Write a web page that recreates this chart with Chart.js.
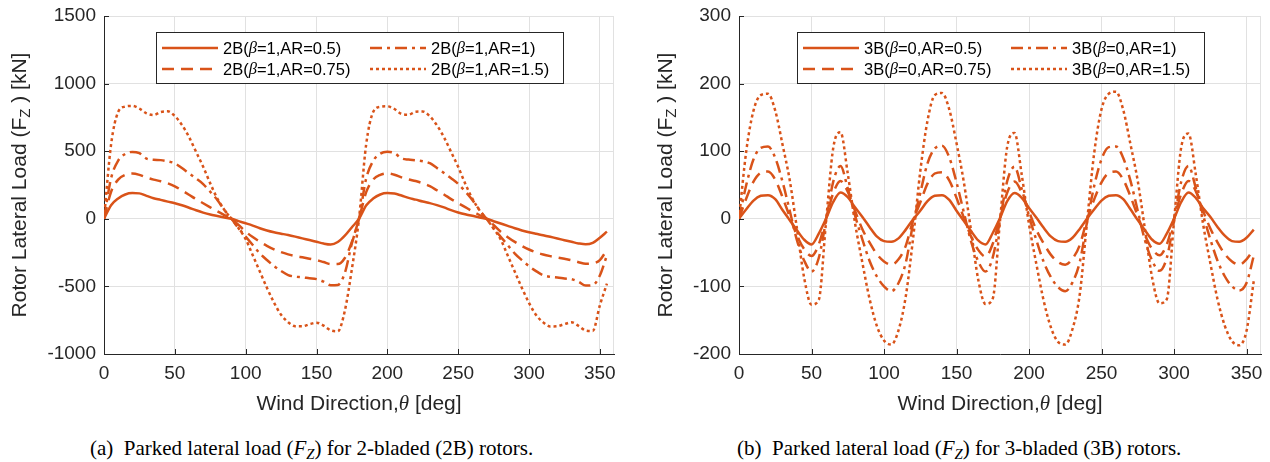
<!DOCTYPE html>
<html>
<head>
<meta charset="utf-8">
<script src="https://cdn.jsdelivr.net/npm/chart.js@4.4.1/dist/chart.umd.min.js"></script>
<style>
  html, body { margin: 0; padding: 0; background: #fff; }
  body { width: 1270px; height: 462px; position: relative; overflow: hidden; }
  canvas { position: absolute; top: 0; }
  #chart2B { left: 0; }
  #chart3B { left: 635px; }
  .caption {
    position: absolute; top: 436px;
    font-family: 'Liberation Serif', 'Times New Roman', serif;
    font-size: 21px; color: #000; white-space: nowrap;
  }
  .caption sub { font-size: 70%; vertical-align: -0.3em; line-height: 0; }
</style>
</head>
<body>
<canvas id="chart2B" width="635" height="425"></canvas>
<canvas id="chart3B" width="635" height="425"></canvas>
<div class="caption" style="left:90px">(a)&nbsp;&nbsp;Parked lateral load (<i>F<sub>Z</sub></i>) for 2-bladed (2B) rotors.</div>
<div class="caption" style="left:737px">(b)&nbsp;&nbsp;Parked lateral load (<i>F<sub>Z</sub></i>) for 3-bladed (3B) rotors.</div>
<script>
// Wind direction (deg) for every sample, both panels
const theta = [
  0, 5, 10, 15, 20, 25, 30, 35, 40, 45, 50, 55, 60, 65, 70, 75, 80, 85,
  90, 95, 100, 105, 110, 115, 120, 125, 130, 135, 140, 145, 150, 155, 160, 165, 170, 175,
  180, 185, 190, 195, 200, 205, 210, 215, 220, 225, 230, 235, 240, 245, 250, 255, 260, 265,
  270, 275, 280, 285, 290, 295, 300, 305, 310, 315, 320, 325, 330, 335, 340, 345, 350, 355
];

const arValues = ['0.5', '0.75', '1', '1.5'];
const xTicks   = [0, 50, 100, 150, 200, 250, 300, 350];
const yTicks2B = [-1000, -500, 0, 500, 1000, 1500];
const yTicks3B = [-200, -100, 0, 100, 200, 300];

// 2-bladed rotors, beta = 1  (kN)
const load2B_AR050 = [
  0, 100, 150, 180, 190, 188, 170, 152, 140, 127, 115, 100, 82, 63, 46, 32, 21, 10,
  0, -17, -33, -50, -70, -87, -100, -110, -120, -132, -145, -157, -170, -183, -190, -172, -125, -62,
  0, 98, 150, 180, 190, 187, 172, 155, 142, 128, 116, 101, 84, 64, 47, 33, 22, 10,
  0, -18, -35, -52, -70, -86, -100, -111, -121, -133, -146, -158, -170, -182, -189, -178, -140, -95
];
const load2B_AR075 = [
  0, 200, 290, 325, 335, 325, 305, 290, 278, 262, 240, 210, 178, 145, 115, 85, 55, 27,
  0, -45, -95, -135, -170, -200, -226, -247, -263, -275, -285, -295, -305, -320, -335, -335, -290, -170,
  0, 195, 290, 325, 336, 326, 306, 291, 279, 263, 241, 211, 180, 146, 116, 86, 56, 28,
  0, -46, -96, -136, -171, -201, -227, -248, -264, -276, -286, -296, -306, -321, -333, -330, -305, -230
];
const load2B_AR100 = [
  0, 300, 430, 480, 495, 485, 445, 437, 434, 425, 410, 375, 336, 298, 257, 200, 139, 65,
  0, -70, -132, -194, -256, -305, -349, -386, -416, -428, -433, -440, -446, -465, -492, -490, -400, -180,
  0, 295, 428, 482, 496, 486, 447, 438, 433, 426, 411, 376, 338, 300, 258, 202, 140, 66,
  0, -71, -133, -195, -257, -306, -350, -387, -417, -429, -434, -441, -447, -466, -494, -490, -420, -270
];
const load2B_AR150 = [
  0, 550, 790, 830, 835, 815, 780, 768, 790, 795, 760, 695, 605, 495, 385, 262, 150, 65,
  0, -70, -150, -270, -390, -510, -620, -710, -765, -795, -795, -780, -768, -790, -825, -832, -680, -370,
  0, 545, 790, 828, 832, 812, 776, 770, 792, 793, 758, 692, 603, 494, 384, 260, 150, 64,
  0, -72, -152, -272, -392, -512, -622, -712, -766, -796, -794, -779, -766, -792, -826, -830, -640, -480
];

// 3-bladed rotors, beta = 0  (kN)
const load3B_AR050 = [
  0, 14, 27, 34, 35, 29, 13, -2, -17, -31, -38, -22, 0, 25, 39, 32, 17, 3, -12, -26, -33, -34, -29, -16,
  -1, 12, 26, 34, 35, 28, 12, -3, -18, -32, -38, -21, 1, 26, 38, 31, 16, 2, -13, -26, -33, -34, -28, -15,
  0, 14, 27, 34, 35, 29, 14, -2, -17, -31, -37, -22, 0, 25, 39, 31, 16, 3, -12, -25, -33, -34, -28, -16
];
const load3B_AR075 = [
  0, 30, 55, 68, 70, 58, 32, 3, -25, -45, -55, -38, 0, 38, 56, 40, 12, -15, -35, -52, -63, -68, -60, -40,
  -3, 24, 52, 67, 69, 57, 31, 2, -26, -46, -56, -37, 1, 39, 55, 39, 11, -16, -36, -53, -64, -68, -59, -39,
  -1, 29, 54, 68, 70, 58, 33, 4, -24, -45, -54, -38, 0, 37, 56, 41, 12, -14, -35, -52, -63, -68, -60, -45
];
const load3B_AR100 = [
  0, 50, 88, 105, 107, 90, 55, 12, -32, -62, -78, -58, -3, 55, 78, 45, 5, -30, -62, -85, -100, -107, -95, -65,
  -8, 38, 82, 104, 108, 91, 54, 10, -33, -63, -78, -57, -2, 56, 77, 44, 4, -31, -63, -86, -101, -107, -94, -64,
  -5, 49, 88, 106, 107, 90, 56, 12, -32, -62, -77, -58, -3, 55, 78, 46, 6, -30, -62, -85, -100, -106, -95, -55
];
const load3B_AR150 = [
  0, 100, 160, 183, 185, 160, 110, 57, -15, -88, -127, -120, -5, 105, 128, 67, -6, -64, -118, -158, -180, -186, -165, -115,
  -30, 70, 145, 183, 186, 162, 112, 55, -17, -90, -126, -118, -3, 107, 127, 65, -8, -66, -120, -160, -182, -186, -163, -112,
  -5, 98, 162, 185, 188, 161, 110, 56, -16, -88, -125, -119, -4, 106, 126, 66, -7, -65, -119, -158, -181, -187, -166, -92
];

const ORANGE = '#D95319';
const AXIS   = '#262626';
const GRID   = '#e1e1e1';
const SANS   = "'Liberation Sans', Arial, Helvetica, sans-serif";
const SERIF  = "'Liberation Serif', 'Times New Roman', serif";

// solid, dashed, dash-dot, dotted  (same order as arValues)
const dashes = [[], [12, 7], [12, 5, 3, 5], [3, 3]];

function buildDatasets(prefix, beta, series) {
  return series.map((vals, i) => ({
    label: `${prefix}(β=${beta},AR=${arValues[i]})`,
    data: theta.map((t, k) => ({ x: t, y: vals[k] })),
    borderColor: ORANGE,
    borderWidth: 2.5,
    borderDash: dashes[i],
    borderCapStyle: 'butt',
    pointRadius: 0,
    cubicInterpolationMode: 'monotone',
    fill: false,
  }));
}

// draw a run of text pieces with their own fonts, centred on x
function drawParts(ctx, parts, x, y) {
  let total = 0;
  parts.forEach(p => { ctx.font = p.font; total += ctx.measureText(p.text).width; });
  let cx = x - total / 2;
  parts.forEach(p => {
    ctx.font = p.font;
    ctx.fillText(p.text, cx, y + (p.dy || 0));
    cx += ctx.measureText(p.text).width;
  });
}

function drawLeft(ctx, parts, x, y) {
  let cx = x;
  parts.forEach(p => {
    ctx.font = p.font;
    ctx.fillText(p.text, cx, y + (p.dy || 0));
    cx += ctx.measureText(p.text).width;
  });
}

const decor = {
  id: 'decor',
  afterDraw(chart, args, opts) {
    const ctx = chart.ctx;
    const a = chart.chartArea;
    const xs = chart.scales.x, ys = chart.scales.y;
    ctx.save();

    // faint top / right frame
    ctx.strokeStyle = GRID;
    ctx.lineWidth = 1;
    ctx.setLineDash([]);
    ctx.beginPath();
    ctx.moveTo(a.left, a.top + 0.5);  ctx.lineTo(a.right, a.top + 0.5);
    ctx.moveTo(a.right - 0.5, a.top); ctx.lineTo(a.right - 0.5, a.bottom);
    ctx.stroke();

    // inward tick marks, MATLAB style
    ctx.strokeStyle = AXIS;
    ctx.beginPath();
    xs.ticks.forEach(t => {
      const px = Math.round(xs.getPixelForValue(t.value)) + 0.5;
      ctx.moveTo(px, a.bottom); ctx.lineTo(px, a.bottom - 5);
    });
    ys.ticks.forEach(t => {
      const py = Math.round(ys.getPixelForValue(t.value)) + 0.5;
      ctx.moveTo(a.left, py); ctx.lineTo(a.left + 5, py);
    });
    ctx.stroke();

    // axis titles
    ctx.fillStyle = AXIS;
    ctx.textBaseline = 'alphabetic';
    drawParts(ctx, [
      { text: 'Wind Direction,', font: `21px ${SANS}` },
      { text: 'θ', font: `italic 21px ${SERIF}` },
      { text: ' [deg]', font: `21px ${SANS}` },
    ], (a.left + a.right) / 2, 410);

    ctx.save();
    ctx.translate(opts.yTitleX, (a.top + a.bottom) / 2);
    ctx.rotate(-Math.PI / 2);
    ctx.textBaseline = 'middle';
    drawParts(ctx, [
      { text: 'Rotor Lateral Load (F', font: `21px ${SANS}` },
      { text: 'Z', font: `15px ${SANS}`, dy: 6 },
      { text: ' ) [kN]', font: `21px ${SANS}` },
    ], 0, 0);
    ctx.restore();

    // legend: two columns, two rows
    const bx = a.left + opts.legendDx, by = 32, bw = 407, bh = 51;
    ctx.fillStyle = '#fff';
    ctx.fillRect(bx, by, bw, bh);
    ctx.strokeStyle = AXIS;
    ctx.lineWidth = 1;
    ctx.strokeRect(bx + 0.5, by + 0.5, bw, bh);
    const slots = [[0, 0], [0, 1], [1, 0], [1, 1]]; // [col,row] per dataset
    chart.data.datasets.forEach((ds, i) => {
      const [col, row] = slots[i];
      const lx = bx + 6 + col * 208;
      const ly = by + 16 + row * 21;
      ctx.strokeStyle = ds.borderColor;
      ctx.lineWidth = ds.borderWidth;
      ctx.setLineDash(ds.borderDash);
      ctx.lineCap = 'butt';
      ctx.beginPath();
      ctx.moveTo(lx, ly); ctx.lineTo(lx + 56, ly);
      ctx.stroke();
      ctx.setLineDash([]);
      const [pre, post] = ds.label.split('β');
      ctx.fillStyle = '#000';
      ctx.textBaseline = 'middle';
      drawLeft(ctx, [
        { text: pre, font: `16.5px ${SANS}` },
        { text: 'β', font: `italic 16.5px ${SERIF}` },
        { text: post, font: `16.5px ${SANS}` },
      ], lx + 61, ly + 1);
    });
    ctx.restore();
  }
};

function makeChart(id, datasets, yTicks, yMin, yMax, padRight, yTitleX, legendDx) {
  const tickFont = { family: SANS, size: 19 };
  return new Chart(document.getElementById(id), {
    type: 'line',
    data: { datasets },
    plugins: [decor],
    options: {
      responsive: false,
      devicePixelRatio: 1,
      animation: false,
      layout: { padding: { top: 16, right: padRight, left: 0, bottom: 0 } },
      plugins: {
        legend: { display: false },
        tooltip: { enabled: false },
        decor: { yTitleX, legendDx },
      },
      scales: {
        x: {
          type: 'linear',
          min: 0,
          max: 360,
          afterBuildTicks: (s) => { s.ticks = xTicks.map(v => ({ value: v })); },
          afterFit: (s) => { s.height = 71; s.paddingLeft = 0; s.paddingRight = 0; },
          ticks: { font: tickFont, color: AXIS, padding: 8, maxRotation: 0, callback: v => String(v) },
          grid: { color: GRID, drawTicks: false },
          border: { display: true, color: AXIS, width: 1 },
        },
        y: {
          min: yMin,
          max: yMax,
          afterBuildTicks: (s) => { s.ticks = yTicks.map(v => ({ value: v })); },
          afterFit: (s) => { s.width = 104; s.paddingTop = 0; s.paddingBottom = 0; },
          ticks: { font: tickFont, color: AXIS, padding: 8, callback: v => String(v) },
          grid: { color: GRID, drawTicks: false },
          border: { display: true, color: AXIS, width: 1 },
        },
      },
    },
  });
}

makeChart('chart2B',
  buildDatasets('2B', 1, [load2B_AR050, load2B_AR075, load2B_AR100, load2B_AR150]),
  yTicks2B, -1000, 1500, 21, 20, 52);

makeChart('chart3B',
  buildDatasets('3B', 0, [load3B_AR050, load3B_AR075, load3B_AR100, load3B_AR150]),
  yTicks3B, -200, 300, 9, 31, 58);
</script>
</body>
</html>
